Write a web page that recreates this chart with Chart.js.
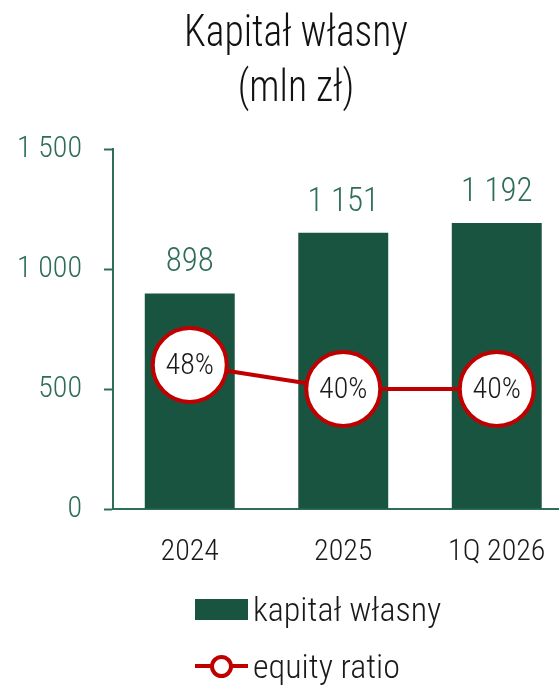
<!DOCTYPE html>
<html lang="pl">
<head>
<meta charset="UTF-8">
<title>Kapitał własny</title>
<script src="https://cdn.jsdelivr.net/npm/chart.js"></script>
<style>
    html, body { margin: 0; padding: 0; background: #fff; }
    body { font-family: 'Roboto Condensed', sans-serif; font-weight: 300; color: #1a1a1a; }
    #page { position: relative; width: 559px; height: 686px; overflow: hidden; }
    #chart { position: absolute; left: 0; top: 0; display: block; }
    .title { position: absolute; left: 96px; top: 4px; width: 400px; text-align: center; font-size: 44px; line-height: 55px; color: #111; transform: scaleX(0.9); }
    .legend { position: absolute; left: 195px; top: 0; font-size: 34px; }
    .legend .item { position: absolute; left: 0; display: flex; align-items: center; white-space: nowrap; height: 40px; }
    .legend .box { width: 53px; height: 21px; background: #18543f; margin-right: 5px; flex: none; }
    .legend .line { width: 53px; height: 4px; background: #c00000; margin-right: 5px; position: relative; flex: none; }
    .legend .line::after { content: ''; position: absolute; left: 15px; top: -9.5px; width: 15px; height: 15px; border: 4px solid #c00000; border-radius: 50%; background: #fff; }
</style>
</head>
<body>
<div id="page">
    <!-- the plot runs a little past the right edge, so the canvas is wider than the page -->
    <canvas id="chart" width="592" height="686"></canvas>
    <div class="title">Kapitał własny<br>(mln zł)</div>
    <div class="legend">
        <div class="item" style="top:589px"><span class="box"></span>kapitał własny</div>
        <div class="item" style="top:646px"><span class="line"></span>equity ratio</div>
    </div>
</div>

<script>
    const FONT = "'Roboto Condensed', sans-serif";
    const GREEN = '#18543f';
    const GREEN_TEXT = '#2e6d58';
    const RED = '#c00000';

    const categories = ['2024', '2025', '1Q 2026'];
    const equity = [898, 1151, 1192];          // mln zł
    const equityRatio = [0.48, 0.40, 0.40];    // share of total assets
    const yTicks = [0, 500, 1000, 1500];

    // "1 151" style thousands separator
    function fmt(n) {
        return String(n).replace(/\B(?=(\d{3})+(?!\d))/g, ' ');
    }

    // value labels: above the bars, inside the ratio circles
    const valueLabels = {
        id: 'valueLabels',
        afterDatasetsDraw(chart) {
            const ctx = chart.ctx;
            ctx.save();
            ctx.textAlign = 'center';
            chart.data.datasets.forEach((ds, i) => {
                const meta = chart.getDatasetMeta(i);
                meta.data.forEach((el, j) => {
                    if (ds.type === 'bar') {
                        ctx.font = '300 33px ' + FONT;
                        ctx.fillStyle = GREEN_TEXT;
                        ctx.textBaseline = 'alphabetic';
                        ctx.fillText(fmt(ds.data[j]), el.x, el.y - 22);
                    } else {
                        ctx.font = '300 30px ' + FONT;
                        ctx.fillStyle = '#1a1a1a';
                        ctx.textBaseline = 'middle';
                        ctx.fillText(Math.round(ds.data[j] * 100) + '%', el.x, el.y + 1);
                    }
                });
            });
            ctx.restore();
        }
    };

    const chart = new Chart(document.getElementById('chart'), {
        data: {
            labels: categories,
            datasets: [
                {
                    type: 'line',
                    label: 'equity ratio',
                    data: equityRatio,
                    yAxisID: 'y1',
                    borderColor: RED,
                    borderWidth: 4,
                    pointRadius: 37,
                    pointHoverRadius: 37,
                    pointBorderWidth: 4,
                    pointBackgroundColor: '#fff',
                    pointBorderColor: RED,
                    order: 0
                },
                {
                    type: 'bar',
                    label: 'kapitał własny',
                    data: equity,
                    yAxisID: 'y',
                    backgroundColor: GREEN,
                    barPercentage: 0.586,
                    categoryPercentage: 1,
                    order: 1
                }
            ]
        },
        options: {
            responsive: false,
            animation: false,
            layout: { padding: { left: 0, right: 18.5, top: 149, bottom: 107 } },
            plugins: {
                legend: { display: false },
                tooltip: { enabled: false }
            },
            scales: {
                x: {
                    grid: { display: false, drawTicks: false },
                    border: { color: GREEN_TEXT, width: 2 },
                    ticks: { color: '#1a1a1a', padding: 25, font: { family: FONT, size: 30, weight: 300 } },
                    afterFit(scale) {
                        scale.height = 70;
                        scale.paddingLeft = 0;
                        scale.paddingRight = 0;
                    }
                },
                y: {
                    min: 0,
                    max: 1500,
                    afterBuildTicks(scale) { scale.ticks = yTicks.map(v => ({ value: v })); },
                    grid: { drawOnChartArea: false, tickLength: 9, tickWidth: 2, color: GREEN_TEXT },
                    border: { color: GREEN_TEXT, width: 2 },
                    ticks: { color: GREEN_TEXT, padding: 22, font: { family: FONT, size: 30, weight: 300 }, callback: v => fmt(v) },
                    afterFit(scale) { scale.width = 113; }
                },
                y1: { display: false, min: 0, max: 1.2 }
            }
        },
        plugins: [valueLabels]
    });

    // the big ratio markers would otherwise reserve a margin around the plot
    chart.getDatasetMeta(0).controller.getMaxOverflow = () => 0;
    chart.update();
</script>
</body>
</html>
